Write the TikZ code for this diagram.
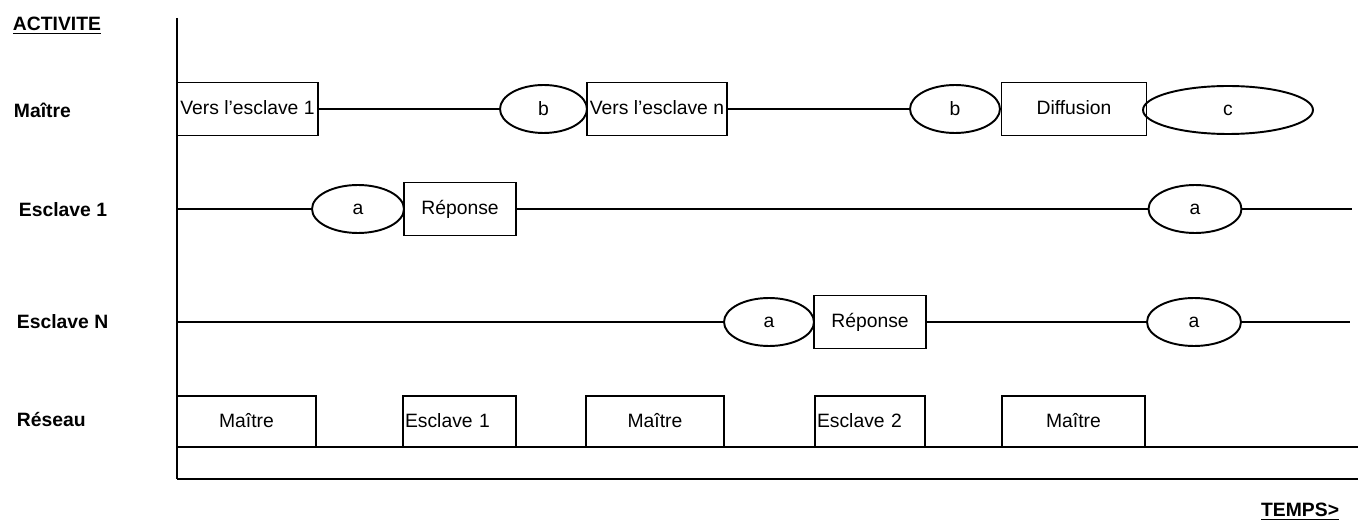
\documentclass[tikz,border=0pt]{standalone}
\usepackage{fontspec}
\setmainfont{Liberation Sans}
\usetikzlibrary{shapes.geometric}

\begin{document}
\begin{tikzpicture}[x=0.02cm, y=-0.02cm, line width=1.1pt,
		cadre/.style={draw, minimum height=1.06cm, inner sep=0pt, text height=1.6ex, text depth=0.4ex, font=\fontsize{11}{13}\selectfont},
		evt/.style={draw, ellipse, minimum height=0.96cm, inner sep=0pt, font=\fontsize{11}{13}\selectfont},
		res/.style={draw, minimum height=1.02cm, inner sep=0pt, text height=1.6ex, text depth=0.4ex, font=\fontsize{11}{13}\selectfont},
		lbl/.style={anchor=west, inner sep=0pt, font=\fontsize{11}{13}\selectfont\bfseries}]
		\useasboundingbox (0,0) rectangle (1367,530);
		\node[lbl] (activ) at (12,26) {\underline{ACTIVITE}};
		\node[lbl] (lmaitre) at (13,110) {Maître};
		\node[lbl] (lesc1) at (18,210) {Esclave 1};
		\node[lbl] (lescn) at (16,322) {Esclave N};
		\node[lbl] (lres) at (16,420) {Réseau};
		\node[lbl, anchor=east] (temps) at (1340,512) {\underline{TEMPS>}};
		\coordinate (haut) at (177,18);
		\coordinate (bas) at (177,479);
		\draw (haut) -- (bas);
		\node[cadre, minimum width=2.82cm] (v1) at (247.5,109) {Vers l'esclave 1};
		\node[evt, minimum width=1.74cm] (b1) at (543.5,109) {b};
		\node[cadre, minimum width=2.8cm] (vn) at (657,109) {Vers l'esclave n};
		\node[evt, minimum width=1.8cm] (b2) at (955,109) {b};
		\node[cadre, minimum width=2.9cm] (diff) at (1074,109) {Diffusion};
		\node[evt, minimum width=3.4cm] (c) at (1228,110) {c};
		\draw (v1) -- (b1);
		\draw (vn) -- (b2);
		\coordinate (e1d) at (177,209);
		\coordinate (e1f) at (1352,209);
		\node[evt, minimum width=1.84cm] (a1) at (358,209) {a};
		\node[cadre, minimum width=2.24cm] (r1) at (460,209) {Réponse};
		\node[evt, minimum width=1.86cm] (a2) at (1195,209) {a};
		\draw (e1d) -- (a1);
		\draw (r1) -- (a2);
		\draw (a2) -- (e1f);
		\coordinate (end) at (177,322);
		\coordinate (enf) at (1350,322);
		\node[evt, minimum width=1.8cm] (a3) at (769,322) {a};
		\node[cadre, minimum width=2.24cm] (r2) at (870,322) {Réponse};
		\node[evt, minimum width=1.88cm] (a4) at (1194,322) {a};
		\draw (end) -- (a3);
		\draw (r2) -- (a4);
		\draw (a4) -- (enf);
		\node[res, minimum width=2.78cm] (m1) at (246.5,421.5) {Maître};
		\node[res, text width=2.18cm, inner xsep=1pt, align=left] (s1) at (459.5,421.5) {Esclave 1};
		\node[res, minimum width=2.76cm] (m2) at (655,421.5) {Maître};
		\node[res, text width=2.12cm, inner xsep=1pt, align=left] (s2) at (870,421.5) {Esclave 2};
		\node[res, minimum width=2.86cm] (m3) at (1073.5,421.5) {Maître};
		\coordinate (rd) at (177,447);
		\coordinate (rf) at (1358,447);
		\coordinate (bf) at (1358,479);
		\draw (rd) -- (rf);
		\draw (bas) -- (bf);
	\end{tikzpicture}
\end{document}
